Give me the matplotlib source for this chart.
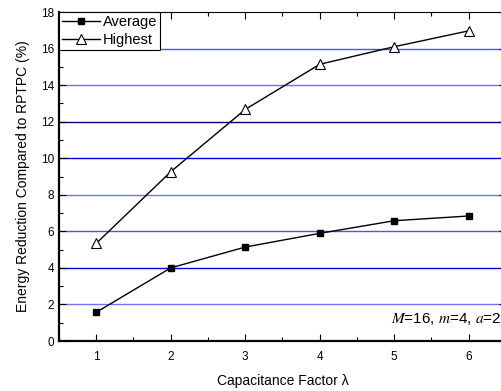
import numpy as np
import matplotlib
matplotlib.use("Agg")
import matplotlib.pyplot as plt
from matplotlib.ticker import MultipleLocator

plt.rcParams['font.family'] = ['Liberation Sans', 'DejaVu Sans']
plt.rcParams['mathtext.fontset'] = 'stix'

# Data
lam = [1, 2, 3, 4, 5, 6]
average = [1.57, 4.00, 5.14, 5.89, 6.58, 6.84]
highest = [5.34, 9.26, 12.67, 15.14, 16.10, 16.97]
grid_levels = [2, 4, 6, 8, 10, 12, 14, 16]
grid_colors = ['#7070ff', '#0000e6', '#5050ff', '#7070ff', '#0000e6', '#00008b', '#7070ff', '#5050ff']

fig = plt.figure(figsize=(5.02, 3.91), dpi=100)
ax = fig.add_axes([59 / 502, 1 - 341 / 391, 447 / 502, 329 / 391])

for lev, col in zip(grid_levels, grid_colors):
    ax.axhline(lev, color=col, linewidth=1.0, zorder=1)

ax.plot(lam, average, color='black', linewidth=1.0, marker='s', markersize=5,
        markerfacecolor='black', label='Average', zorder=3)
ax.plot(lam, highest, color='black', linewidth=1.0, marker='^', markersize=6.5,
        markerfacecolor='white', markeredgewidth=0.8, label='Highest', zorder=3)

ax.set_xlim(0.5, 6.5)
ax.set_ylim(0, 18)
ax.xaxis.set_major_locator(MultipleLocator(1))
ax.xaxis.set_minor_locator(MultipleLocator(0.5))
ax.yaxis.set_major_locator(MultipleLocator(2))
ax.yaxis.set_minor_locator(MultipleLocator(1))
ax.tick_params(which='both', direction='in', top=True, right=True, labelsize=8.5, width=0.8)
ax.tick_params(which='major', length=5)
ax.tick_params(which='minor', length=3)
ax.tick_params(axis='x', pad=7)
for s in ['left', 'bottom']:
    ax.spines[s].set_linewidth(1.6)
for s in ['top', 'right']:
    ax.spines[s].set_linewidth(0.8)

ax.set_xlabel('Capacitance Factor λ', fontsize=10, labelpad=8)
ax.set_ylabel('Energy Reduction Compared to RPTPC (%)', fontsize=10, labelpad=8)

leg = ax.legend(loc='upper left', bbox_to_anchor=(0, 1), fontsize=10.5, frameon=True,
                fancybox=False, edgecolor='black', framealpha=1, borderpad=0.2,
                handlelength=2.6, handletextpad=0.2, labelspacing=0.3, borderaxespad=0)
leg.get_frame().set_linewidth(0.8)

ax.text(6.44, 0.75, r'$M$=16, $m$=4, $a$=2', fontsize=11, ha='right', va='bottom')

fig.savefig('out.png', dpi=100)
